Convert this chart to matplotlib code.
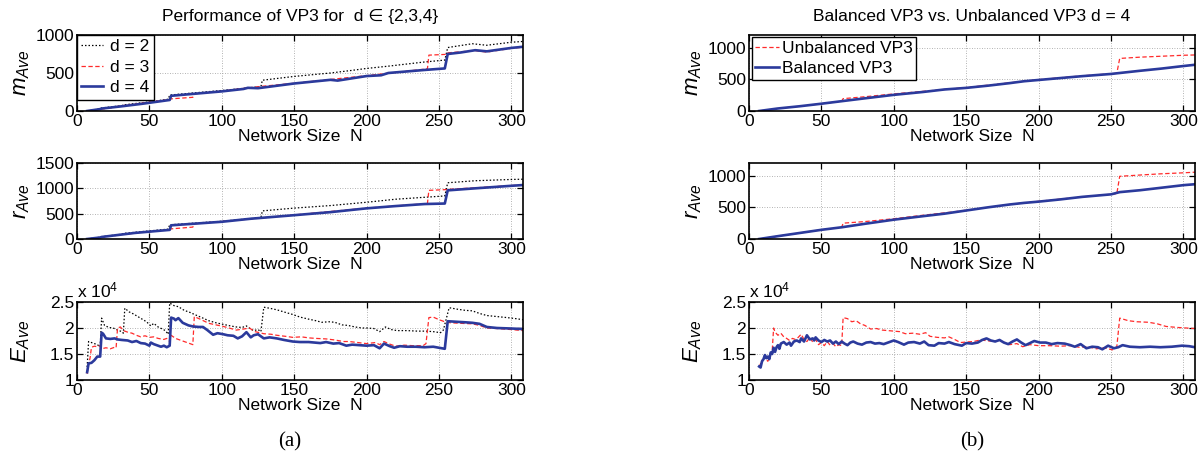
import matplotlib
matplotlib.use("Agg")
import matplotlib.pyplot as plt
from matplotlib.ticker import FormatStrFormatter

plt.rcParams["font.family"] = ["Liberation Sans", "DejaVu Sans"]
plt.rcParams["mathtext.fontset"] = "custom"
plt.rcParams["mathtext.it"] = "Liberation Sans:italic"
plt.rcParams["mathtext.rm"] = "Liberation Sans"

# ---------------- (a) VP3 for d in {2,3,4} ----------------
# average number of messages m_Ave
m_d2_n = [7, 16, 17, 31, 32, 50, 63, 64, 100, 127, 128, 150, 175, 188, 200, 215, 240, 254, 256, 273, 283, 300, 308]
m_d2 = [0, 30, 40, 70, 80, 120, 155, 210, 270, 320, 405, 455, 500, 530, 560, 590, 645, 670, 835, 885, 865, 905, 915]
m_d3_n = [7, 27, 28, 45, 64, 65, 80, 81, 100, 125, 150, 200, 242, 243, 255, 256, 275, 283, 300, 308]
m_d3 = [0, 50, 62, 105, 150, 160, 180, 225, 262, 320, 365, 465, 555, 735, 745, 765, 795, 775, 825, 840]
m_d4_n = [7, 16, 17, 30, 45, 64, 65, 80, 100, 115, 118, 125, 150, 175, 180, 200, 210, 215, 240, 254, 256, 265, 275, 283, 300, 308]
m_d4 = [0, 25, 32, 60, 95, 145, 200, 225, 258, 290, 305, 300, 362, 410, 400, 460, 470, 500, 540, 560, 750, 770, 800, 785, 830, 845]

# average number of rounds r_Ave
r_d2_n = [7, 16, 17, 31, 32, 63, 64, 100, 127, 128, 150, 175, 200, 220, 254, 256, 275, 300, 308]
r_d2 = [0, 35, 45, 95, 110, 195, 280, 350, 420, 555, 610, 660, 725, 785, 850, 1110, 1150, 1175, 1180]
r_d3_n = [7, 27, 28, 64, 65, 80, 81, 100, 150, 200, 242, 243, 255, 256, 275, 300, 308]
r_d3 = [0, 70, 80, 185, 200, 235, 300, 345, 475, 610, 700, 960, 975, 980, 1010, 1055, 1070]
r_d4_n = [7, 16, 17, 40, 64, 65, 80, 100, 120, 150, 175, 200, 220, 240, 254, 256, 275, 300, 308]
r_d4 = [0, 30, 40, 120, 180, 270, 300, 340, 400, 470, 530, 605, 650, 690, 700, 960, 1000, 1050, 1065]

# average energy E_Ave, (N, value / 1e4)
e_d2 = [(7, 1.25), (8, 1.74), (10, 1.72), (12, 1.70), (14, 1.68), (16, 1.64), (17, 2.19), (19, 2.05),
        (22, 2.01), (25, 2.00), (28, 1.96), (31, 1.93), (32, 1.90), (33, 2.38), (36, 2.31), (39, 2.27),
        (42, 2.22), (45, 2.17), (48, 2.12), (51, 2.04), (53, 2.09), (56, 2.02), (59, 1.98), (61, 1.95),
        (63, 1.88), (64, 2.48), (67, 2.43), (70, 2.41), (74, 2.34), (78, 2.30), (82, 2.25), (87, 2.19),
        (91, 2.14), (96, 2.10), (101, 2.07), (106, 2.04), (110, 2.02), (114, 2.01), (117, 2.04), (120, 1.98),
        (122, 1.95), (125, 1.97), (127, 1.93), (129, 2.40), (133, 2.38), (138, 2.35), (144, 2.30), (149, 2.26),
        (154, 2.21), (160, 2.17), (165, 2.14), (169, 2.11), (174, 2.12), (178, 2.11), (183, 2.06), (187, 2.05),
        (192, 2.02), (197, 2.00), (200, 2.00), (205, 1.99), (209, 1.93), (213, 2.02), (217, 1.97), (221, 1.95),
        (228, 1.95), (235, 1.94), (241, 1.94), (246, 1.93), (251, 1.91), (253, 1.96), (257, 2.39), (263, 2.36),
        (268, 2.34), (273, 2.33), (278, 2.28), (283, 2.24), (290, 2.22), (297, 2.20), (303, 2.18), (308, 2.16)]
e_d3 = [(7, 1.12), (8, 1.30), (9, 1.42), (10, 1.63), (12, 1.65), (14, 1.64), (16, 1.66), (17, 1.60),
        (20, 1.62), (23, 1.60), (26, 1.63), (27, 1.62), (28, 2.00), (30, 2.02), (32, 1.95), (35, 1.92),
        (38, 1.90), (41, 1.86), (44, 1.83), (47, 1.85), (50, 1.82), (53, 1.83), (56, 1.80), (60, 1.78),
        (62, 1.80), (64, 1.74), (65, 1.86), (68, 1.80), (72, 1.76), (76, 1.72), (80, 1.68), (81, 2.22),
        (85, 2.17), (91, 2.09), (96, 2.06), (101, 2.03), (105, 2.00), (110, 1.96), (115, 1.98), (119, 2.00),
        (123, 1.93), (129, 1.89), (134, 1.88), (138, 1.86), (144, 1.84), (149, 1.82), (155, 1.83), (160, 1.81),
        (165, 1.80), (172, 1.79), (178, 1.77), (184, 1.74), (188, 1.74), (194, 1.72), (200, 1.70), (206, 1.72),
        (209, 1.68), (212, 1.74), (216, 1.69), (220, 1.65), (226, 1.67), (232, 1.66), (239, 1.66), (241, 1.70),
        (243, 2.20), (246, 2.21), (250, 2.16), (254, 2.12), (258, 2.10), (265, 2.09), (273, 2.08), (278, 2.05),
        (283, 2.00), (290, 1.99), (300, 1.97), (308, 1.95)]
e_d4 = [(7, 1.15), (8, 1.32), (10, 1.33), (12, 1.38), (14, 1.45), (16, 1.45), (17, 1.91), (18, 1.89),
        (20, 1.80), (23, 1.79), (26, 1.80), (28, 1.78), (31, 1.77), (35, 1.76), (38, 1.73), (41, 1.75),
        (44, 1.71), (47, 1.70), (50, 1.66), (51, 1.72), (53, 1.69), (55, 1.67), (58, 1.64), (60, 1.66),
        (62, 1.63), (64, 1.66), (65, 2.20), (67, 2.18), (68, 2.15), (70, 2.19), (73, 2.10), (77, 2.05),
        (80, 2.03), (84, 2.02), (87, 2.02), (90, 1.96), (94, 1.87), (97, 1.90), (101, 1.88), (104, 1.86),
        (108, 1.85), (111, 1.80), (114, 1.84), (117, 1.92), (120, 1.82), (122, 1.86), (125, 1.88), (129, 1.80),
        (133, 1.82), (138, 1.80), (143, 1.77), (149, 1.74), (154, 1.73), (160, 1.73), (168, 1.71), (172, 1.73),
        (177, 1.70), (181, 1.71), (186, 1.66), (190, 1.68), (195, 1.67), (200, 1.66), (205, 1.67), (209, 1.61),
        (212, 1.70), (216, 1.65), (219, 1.62), (223, 1.65), (228, 1.64), (234, 1.64), (240, 1.63), (246, 1.64),
        (250, 1.62), (254, 1.60), (256, 2.13), (262, 2.12), (268, 2.11), (273, 2.10), (278, 2.08), (283, 2.02),
        (290, 2.00), (300, 1.99), (308, 1.98)]

# ---------------- (b) balanced vs unbalanced, d = 4 ----------------
m_unbal_n = [7, 20, 35, 50, 64, 65, 80, 100, 120, 140, 150, 180, 200, 230, 254, 256, 270, 285, 300, 308]
m_unbal = [0, 40, 75, 115, 155, 195, 225, 270, 310, 350, 370, 445, 495, 555, 595, 830, 850, 865, 880, 885]
m_bal_n = [7, 20, 35, 50, 64, 80, 100, 120, 135, 150, 165, 180, 190, 200, 215, 230, 250, 256, 270, 285, 300, 308]
m_bal = [0, 40, 75, 115, 155, 200, 255, 300, 340, 365, 400, 440, 470, 490, 520, 550, 585, 600, 635, 670, 710, 730]

r_unbal_n = [7, 20, 35, 50, 64, 65, 80, 100, 120, 140, 150, 180, 200, 230, 254, 256, 270, 285, 300, 308]
r_unbal = [0, 45, 95, 145, 185, 250, 275, 320, 375, 425, 455, 545, 595, 665, 715, 990, 1010, 1030, 1045, 1055]
r_bal_n = [7, 20, 35, 50, 64, 80, 100, 120, 135, 150, 165, 180, 190, 200, 215, 230, 250, 256, 270, 285, 300, 308]
r_bal = [0, 45, 95, 145, 185, 240, 305, 360, 400, 450, 500, 545, 570, 590, 625, 665, 705, 740, 770, 810, 850, 865]

e_unbal = [(7, 1.25), (9, 1.38), (11, 1.42), (13, 1.36), (15, 1.50), (16, 1.55), (17, 2.00), (18, 1.92),
           (20, 1.86), (22, 1.90), (24, 1.83), (26, 1.80), (28, 1.76), (30, 1.80), (32, 1.78), (34, 1.82),
           (36, 1.88), (38, 1.78), (40, 1.74), (42, 1.82), (44, 1.73), (46, 1.78), (48, 1.68), (50, 1.72),
           (52, 1.66), (54, 1.74), (56, 1.67), (58, 1.70), (60, 1.64), (62, 1.68), (64, 1.66), (65, 2.20),
           (68, 2.18), (71, 2.12), (74, 2.14), (77, 2.08), (80, 2.05), (84, 1.98), (88, 1.99), (92, 1.96),
           (96, 1.95), (100, 1.94), (104, 1.93), (108, 1.89), (113, 1.90), (118, 1.88), (122, 1.91), (125, 1.84),
           (130, 1.82), (135, 1.81), (138, 1.83), (142, 1.78), (146, 1.72), (150, 1.73), (155, 1.74), (160, 1.77),
           (166, 1.75), (173, 1.76), (180, 1.68), (185, 1.70), (189, 1.64), (194, 1.68), (200, 1.66), (208, 1.66),
           (215, 1.65), (222, 1.66), (228, 1.63), (234, 1.64), (240, 1.60), (245, 1.62), (251, 1.58), (254, 1.64),
           (256, 2.19), (262, 2.14), (268, 2.12), (276, 2.11), (282, 2.08), (288, 2.03), (296, 2.01), (302, 2.00),
           (308, 1.99)]
e_bal = [(7, 1.26), (8, 1.24), (9, 1.36), (10, 1.40), (11, 1.48), (12, 1.42), (13, 1.45), (14, 1.40),
         (15, 1.53), (16, 1.50), (17, 1.62), (18, 1.54), (19, 1.63), (20, 1.67), (21, 1.60), (22, 1.70),
         (24, 1.73), (26, 1.68), (28, 1.72), (29, 1.66), (31, 1.74), (33, 1.76), (35, 1.73), (36, 1.80),
         (38, 1.74), (40, 1.86), (42, 1.78), (44, 1.80), (45, 1.76), (46, 1.82), (48, 1.76), (50, 1.73),
         (52, 1.77), (54, 1.74), (56, 1.76), (58, 1.70), (60, 1.74), (62, 1.69), (64, 1.74), (66, 1.70),
         (68, 1.67), (70, 1.72), (72, 1.74), (75, 1.70), (78, 1.68), (81, 1.72), (84, 1.73), (87, 1.70),
         (90, 1.71), (93, 1.69), (96, 1.72), (100, 1.76), (103, 1.73), (107, 1.68), (110, 1.72), (114, 1.73),
         (118, 1.70), (121, 1.74), (124, 1.67), (128, 1.66), (131, 1.71), (135, 1.70), (138, 1.73), (142, 1.69),
         (147, 1.66), (150, 1.71), (154, 1.70), (158, 1.72), (161, 1.77), (164, 1.80), (167, 1.76), (170, 1.74),
         (173, 1.77), (176, 1.72), (179, 1.69), (182, 1.74), (185, 1.78), (188, 1.72), (191, 1.67), (194, 1.71),
         (197, 1.75), (201, 1.72), (205, 1.72), (209, 1.69), (213, 1.71), (218, 1.70), (222, 1.67), (225, 1.64),
         (229, 1.69), (233, 1.61), (237, 1.64), (241, 1.63), (244, 1.59), (248, 1.66), (252, 1.61), (255, 1.63),
         (258, 1.67), (263, 1.64), (270, 1.63), (277, 1.64), (284, 1.63), (292, 1.64), (299, 1.66), (304, 1.65),
         (308, 1.63)]

BLUE = "#2b3a9c"
RED = "#ff2a2a"
STYLE_D2 = dict(color="black", lw=0.9, dashes=(1.2, 1.6))
STYLE_D3 = dict(color=RED, lw=0.9, dashes=(3.5, 2.0))
STYLE_D4 = dict(color=BLUE, lw=1.9)

W, H = 1202, 465
fig = plt.figure(figsize=(W / 100, H / 100), dpi=100)


def make_axes(left, top, bottom, width=446):
    return fig.add_axes([left / W, 1 - bottom / H, width / W, (bottom - top) / H])


def style_axes(ax, ylabel, ylim, yticks, fmt=None):
    ax.set_xlim(0, 308)
    ax.set_ylim(*ylim)
    ax.set_xticks(range(0, 301, 50))
    ax.set_yticks(yticks)
    if fmt:
        ax.yaxis.set_major_formatter(FormatStrFormatter(fmt))
    ax.grid(True, color="#9a9a9a", lw=0.6, linestyle=(0, (1, 2)))
    ax.tick_params(direction="in", top=True, right=True, length=4, width=0.9,
                   labelsize=12.5)
    ax.tick_params(axis="y", pad=2)
    ax.tick_params(axis="x", pad=2.5)
    for s in ax.spines.values():
        s.set_linewidth(1.2)
    ax.set_xlabel("Network Size  N", fontsize=12.5, labelpad=0)
    ax.set_ylabel(ylabel, fontsize=16)
    ax.yaxis.set_label_coords(-0.100, 0.5)


def unzip(pairs):
    return [p[0] for p in pairs], [p[1] for p in pairs]


rows = [(35, 111), (163, 239), (302, 380)]

# panel (a)
ax_m = make_axes(77, *rows[0])
ax_m.plot(m_d2_n, m_d2, label="d = 2", **STYLE_D2)
ax_m.plot(m_d3_n, m_d3, label="d = 3", **STYLE_D3)
ax_m.plot(m_d4_n, m_d4, label="d = 4", **STYLE_D4)
style_axes(ax_m, r"$m_{Ave}$", (0, 1000), [0, 500, 1000])
ax_m.set_title("Performance of VP3 for  d \u2208 {2,3,4}", fontsize=12.5, pad=10)
ax_m.legend(loc="upper left", bbox_to_anchor=(0, 1), borderaxespad=0, fontsize=12.5,
            fancybox=False, framealpha=1, edgecolor="black", handlelength=1.25,
            handletextpad=0.4, labelspacing=0.3, borderpad=0.25).get_frame().set_linewidth(1.0)

ax_r = make_axes(77, *rows[1])
ax_r.plot(r_d2_n, r_d2, **STYLE_D2)
ax_r.plot(r_d3_n, r_d3, **STYLE_D3)
ax_r.plot(r_d4_n, r_d4, **STYLE_D4)
style_axes(ax_r, r"$r_{Ave}$", (0, 1500), [0, 500, 1000, 1500])

ax_e = make_axes(77, *rows[2])
for pairs, st in [(e_d2, STYLE_D2), (e_d3, STYLE_D3), (e_d4, STYLE_D4)]:
    ax_e.plot(*unzip(pairs), **st)
style_axes(ax_e, r"$E_{Ave}$", (1, 2.5), [1, 1.5, 2, 2.5], "%g")
ax_e.text(0, 1.02, r"x 10$^4$", transform=ax_e.transAxes, fontsize=12.5, va="bottom")

# panel (b)
bx_m = make_axes(749, *rows[0])
bx_m.plot(m_unbal_n, m_unbal, label="Unbalanced VP3", **STYLE_D3)
bx_m.plot(m_bal_n, m_bal, label="Balanced VP3", **STYLE_D4)
style_axes(bx_m, r"$m_{Ave}$", (0, 1200), [0, 500, 1000])
bx_m.set_title("Balanced VP3 vs. Unbalanced VP3 d = 4", fontsize=12.5, pad=10)
bx_m.legend(loc="upper left", bbox_to_anchor=(0.006, 0.97), borderaxespad=0, fontsize=12.5,
            fancybox=False, framealpha=1, edgecolor="black", handlelength=1.4,
            handletextpad=0.15, labelspacing=0.3, borderpad=0.2).get_frame().set_linewidth(1.0)

bx_r = make_axes(749, *rows[1])
bx_r.plot(r_unbal_n, r_unbal, **STYLE_D3)
bx_r.plot(r_bal_n, r_bal, **STYLE_D4)
style_axes(bx_r, r"$r_{Ave}$", (0, 1200), [0, 500, 1000])

bx_e = make_axes(749, *rows[2])
bx_e.plot(*unzip(e_unbal), **STYLE_D3)
bx_e.plot(*unzip(e_bal), **STYLE_D4)
style_axes(bx_e, r"$E_{Ave}$", (1, 2.5), [1, 1.5, 2, 2.5], "%g")
bx_e.text(0, 1.02, r"x 10$^4$", transform=bx_e.transAxes, fontsize=12.5, va="bottom")

fig.text(290 / W, 1 - 442 / H, "(a)", fontsize=15, family="Liberation Serif", ha="center", va="center")
fig.text(972 / W, 1 - 442 / H, "(b)", fontsize=15, family="Liberation Serif", ha="center", va="center")

fig.savefig("out.png", dpi=100)
